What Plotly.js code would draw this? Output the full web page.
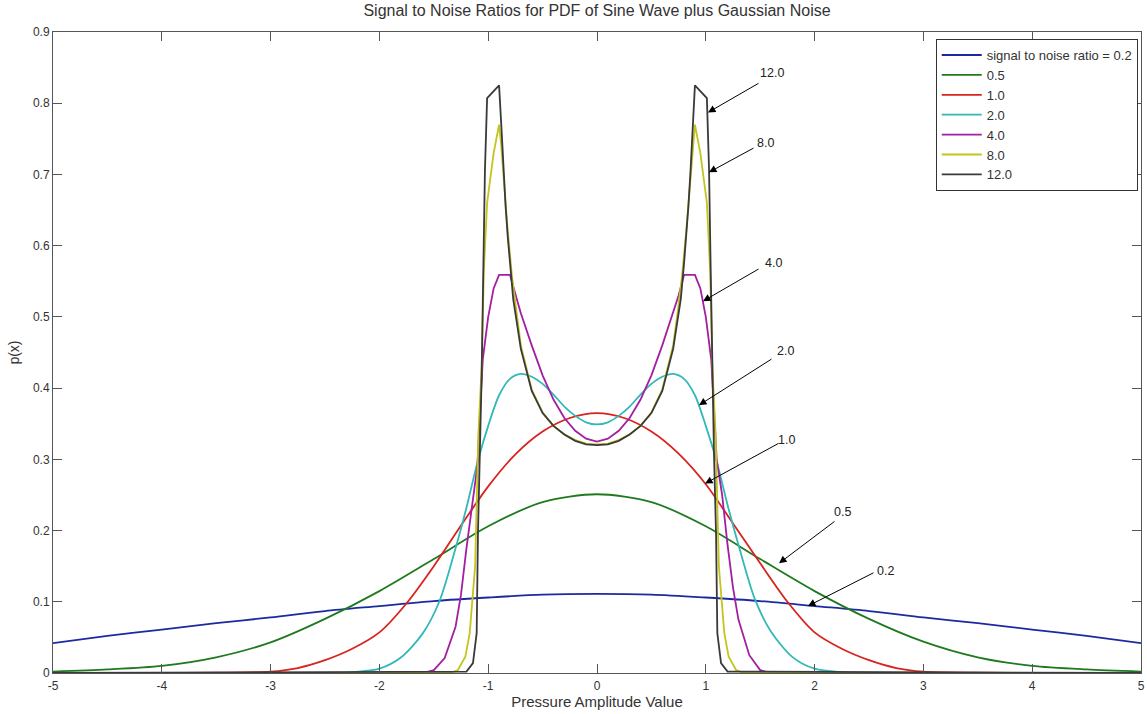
<!DOCTYPE html>
<html>
<head>
<meta charset="utf-8">
<script src="https://cdn.plot.ly/plotly-3.0.1.min.js"></script>
<style>html,body{margin:0;padding:0;background:#fff;}#chart{width:1147px;height:714px;}</style>
</head>
<body>
<div id="chart"></div>
<script>
// Series names (legend labels)
const seriesNames = ["signal to noise ratio = 0.2", "0.5", "1.0", "2.0", "4.0", "8.0", "12.0"];

// Tick labels (hyphen minus, as in the reference)
const xTickVals = [-5,-4,-3,-2,-1,0,1,2,3,4,5];
const xTickText = ["-5","-4","-3","-2","-1","0","1","2","3","4","5"];
const yTickVals = [0,0.1,0.2,0.3,0.4,0.5,0.6,0.7,0.8,0.9];
const yTickText = ["0","0.1","0.2","0.3","0.4","0.5","0.6","0.7","0.8","0.9"];

// SNR 0.2
const x02 = [-5,-4.5,-4,-3.5,-3,-2.5,-2,-1.5,-1,-0.5,0,0.5,1,1.5,2,2.5,3,3.5,4,4.5,5];
const y02 = [0.042,0.052,0.061,0.070,0.078,0.087,0.094,0.101,0.106,0.110,0.111,0.110,0.106,0.101,0.094,0.087,0.078,0.070,0.061,0.052,0.042];

// SNR 0.5
const x05 = [-5,-4.5,-4,-3.5,-3,-2.5,-2,-1.5,-1,-0.5,0,0.5,1,1.5,2,2.5,3,3.5,4,4.5,5];
const y05 = [0.002,0.005,0.010,0.022,0.043,0.076,0.115,0.160,0.206,0.240,0.251,0.240,0.206,0.160,0.115,0.076,0.044,0.022,0.010,0.005,0.002];

// SNR 1.0
const x10 = [-5,-4,-3.5,-3,-2.75,-2.5,-2.25,-2,-1.75,-1.5,-1.25,-1,-0.75,-0.5,-0.25,0,0.25,0.5,0.75,1,1.25,1.5,1.75,2,2.25,2.5,2.75,3,3.5,4,5];
const y10 = [0,0,0.0005,0.002,0.007,0.018,0.034,0.057,0.098,0.150,0.207,0.262,0.307,0.339,0.358,0.365,0.358,0.339,0.308,0.265,0.210,0.154,0.100,0.057,0.034,0.018,0.007,0.002,0.0005,0,0];

// SNR 2.0
const x20 = [-5,-2.5,-2.25,-2,-1.8,-1.6,-1.45,-1.3,-1.2,-1.1,-1.0,-0.9,-0.8,-0.7,-0.6,-0.5,-0.4,-0.3,-0.2,-0.1,0,0.1,0.2,0.3,0.4,0.5,0.6,0.7,0.8,0.9,1.0,1.1,1.2,1.3,1.45,1.6,1.8,2,2.25,2.5,5];
const y20 = [0,0,0.001,0.006,0.022,0.056,0.100,0.175,0.232,0.295,0.347,0.390,0.413,0.420,0.416,0.406,0.391,0.374,0.361,0.352,0.349,0.352,0.361,0.374,0.391,0.406,0.416,0.420,0.413,0.390,0.347,0.297,0.236,0.180,0.104,0.058,0.022,0.006,0.001,0,0];

// SNR 4.0
const x40 = [-5,-1.6,-1.5,-1.4,-1.3,-1.25,-1.2,-1.15,-1.1,-1.05,-1.0,-0.95,-0.9,-0.8,-0.75,-0.7,-0.6,-0.5,-0.4,-0.3,-0.2,-0.1,0,0.1,0.2,0.3,0.4,0.5,0.6,0.7,0.75,0.8,0.9,0.95,1.0,1.05,1.1,1.15,1.2,1.25,1.3,1.4,1.5,1.6,5];
const y40 = [0,0,0.004,0.021,0.065,0.110,0.175,0.235,0.290,0.440,0.500,0.540,0.559,0.559,0.530,0.505,0.460,0.418,0.384,0.358,0.340,0.329,0.325,0.329,0.340,0.358,0.384,0.418,0.460,0.505,0.530,0.559,0.559,0.540,0.500,0.440,0.300,0.250,0.180,0.120,0.075,0.025,0.004,0,0];

// SNR 8.0
const x80 = [-5,-1.35,-1.28,-1.21,-1.17,-1.12,-1.09,-1.06,-1.04,-1.01,-0.95,-0.9,-0.88,-0.85,-0.82,-0.78,-0.74,-0.7,-0.6,-0.5,-0.4,-0.3,-0.2,-0.1,0,0.1,0.2,0.3,0.4,0.5,0.6,0.7,0.74,0.78,0.82,0.85,0.88,0.9,0.95,1.01,1.04,1.06,1.09,1.12,1.17,1.21,1.28,1.35,5];
const y80 = [0,0,0.004,0.023,0.056,0.150,0.337,0.430,0.565,0.660,0.730,0.770,0.740,0.680,0.620,0.555,0.505,0.460,0.398,0.366,0.347,0.335,0.327,0.322,0.321,0.322,0.327,0.335,0.347,0.366,0.398,0.460,0.505,0.555,0.620,0.680,0.740,0.770,0.730,0.660,0.565,0.430,0.337,0.150,0.056,0.023,0.004,0,0];

// SNR 12.0
const x120 = [-5,-1.2,-1.14,-1.106,-1.094,-1.075,-1.06,-1.045,-1.03,-1.01,-0.9,-0.88,-0.86,-0.84,-0.82,-0.8,-0.77,-0.7,-0.6,-0.5,-0.4,-0.3,-0.2,-0.1,0,0.1,0.2,0.3,0.4,0.5,0.6,0.7,0.77,0.8,0.82,0.84,0.86,0.88,0.9,1.01,1.03,1.045,1.06,1.075,1.094,1.106,1.14,1.2,5];
const y120 = [0,0.002,0.014,0.056,0.196,0.310,0.420,0.565,0.706,0.807,0.825,0.770,0.706,0.655,0.612,0.575,0.525,0.455,0.396,0.365,0.347,0.335,0.326,0.321,0.320,0.321,0.326,0.335,0.347,0.365,0.396,0.455,0.525,0.575,0.612,0.655,0.706,0.770,0.825,0.807,0.706,0.565,0.420,0.310,0.196,0.056,0.014,0.002,0];

const xs = [x02, x05, x10, x20, x40, x80, x120];
const ys = [y02, y05, y10, y20, y40, y80, y120];
const colors = ["#1c2aa0", "#1f7a1f", "#d8231e", "#33b8b8", "#a21fa2", "#c4c41e", "#3a3a3a"];
const shapes = ["spline", "spline", "spline", "spline", "linear", "linear", "linear"];

// Arrow labels: text, head (x,y) in data units, text position in data units, tail offset in px
const labelTexts = ["12.0", "8.0", "4.0", "2.0", "1.0", "0.5", "0.2"];
const headX = [1.020, 1.029, 0.974, 0.937, 0.993, 1.673, 1.939];
const headY = [0.787, 0.703, 0.522, 0.376, 0.266, 0.154, 0.094];
const tailAX = [52, 46, 57, 74, 75, 57, 67];
const tailAY = [-30, -25, -33, -47, -41, -43, -34];
const textX = [1.608, 1.553, 1.62, 1.728, 1.746, 2.252, 2.656];
const textY = [0.843, 0.744, 0.576, 0.452, 0.327, 0.226, 0.143];

const font = "Liberation Sans, Arial, Helvetica, sans-serif";

const traces = seriesNames.map((n, i) => ({
  x: xs[i], y: ys[i], name: n, type: "scatter", mode: "lines",
  line: {color: colors[i], width: 1.8, shape: shapes[i], smoothing: 0.8}
}));

const annotations = [];
labelTexts.forEach((t, i) => {
  annotations.push({
    x: headX[i], y: headY[i], xref: "x", yref: "y", text: "",
    showarrow: true, ax: tailAX[i], ay: tailAY[i],
    arrowhead: 2, arrowsize: 1.5, arrowwidth: 1, arrowcolor: "#000"
  });
  annotations.push({
    x: textX[i], y: textY[i], xref: "x", yref: "y", text: t, showarrow: false,
    xanchor: "center", yanchor: "middle", font: {family: font, size: 12.5, color: "#222"}
  });
});

const axisCommon = {
  showline: true, linecolor: "#555", linewidth: 1, mirror: "ticks",
  ticks: "inside", ticklen: 9, tickcolor: "#555", tickwidth: 1,
  showgrid: false, zeroline: false, tickmode: "array",
  tickfont: {family: font, size: 12, color: "#333"}
};

const layout = {
  width: 1147, height: 714,
  margin: {l: 53, r: 6, t: 32, b: 41},
  paper_bgcolor: "#fff", plot_bgcolor: "#fff",
  font: {family: font, size: 12, color: "#333"},
  title: {text: "Signal to Noise Ratios for PDF of Sine Wave plus Gaussian Noise",
    font: {family: font, size: 16, color: "#333"}, x: 0.5, xref: "paper",
    y: 0.986, yref: "container", yanchor: "middle"},
  xaxis: Object.assign({}, axisCommon, {range: [-5, 5], tickvals: xTickVals, ticktext: xTickText,
    ticklabelstandoff: 2,
    title: {text: "Pressure Amplitude Value", font: {family: font, size: 15, color: "#333"}, standoff: 2}}),
  yaxis: Object.assign({}, axisCommon, {range: [0, 0.9], tickvals: yTickVals, ticktext: yTickText,
    title: {text: "p(x)", font: {family: font, size: 14, color: "#333"}, standoff: 10}}),
  showlegend: true,
  legend: {x: 0.997, y: 0.989, xanchor: "right", yanchor: "top",
    bgcolor: "#fff", bordercolor: "#333", borderwidth: 1,
    font: {family: font, size: 13, color: "#333"}, tracegroupgap: 0, itemwidth: 40},
  annotations: annotations
};

Plotly.newPlot("chart", traces, layout, {displayModeBar: false, staticPlot: true});
</script>
</body>
</html>
